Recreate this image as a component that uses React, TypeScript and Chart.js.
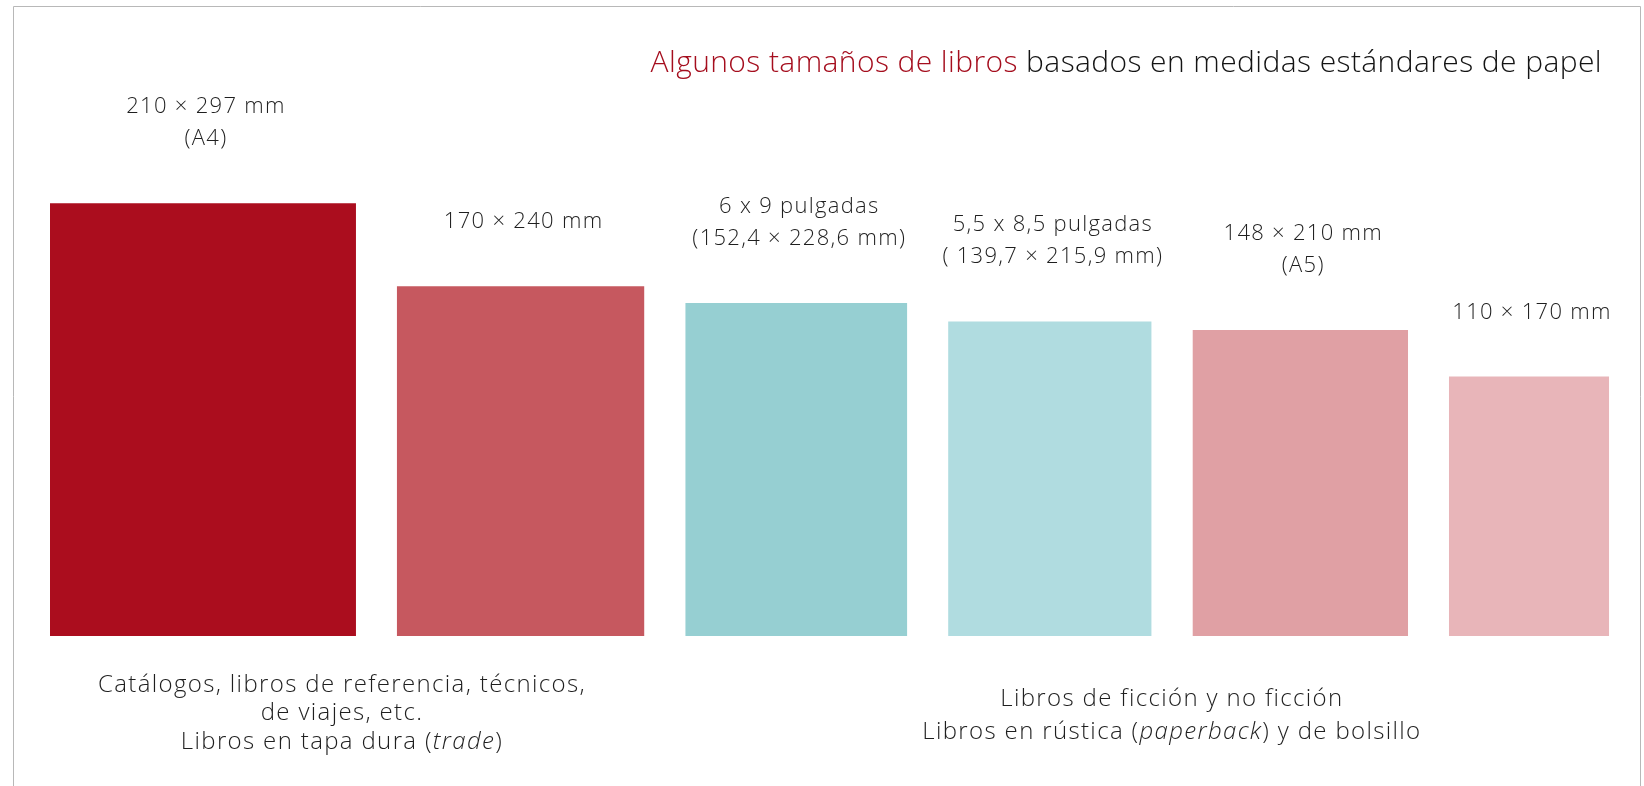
import React, { useEffect, useRef } from "react";
import { Chart, registerables } from "chart.js";

Chart.register(...registerables);

// Book sizes in millimetres (width × height, as drawn)
const bookNames = ["A4", "170x240", "6x9in", "5.5x8.5in", "A5", "110x170"];
const bookWidths = [210, 170, 152.4, 139.7, 148, 110];
const bookHeights = [297, 240, 228.6, 215.9, 210, 178];
const bookStarts = [0, 238, 436, 616.4, 784.1, 960.1];
const bookColors = ["#ab0d1e", "#c6585f", "#96cfd2", "#b0dce0", "#e0a0a4", "#e8b5b9"];
const bookLabels = [
  ["210 × 297 mm", "(A4)"],
  ["170 × 240 mm"],
  ["6 x 9 pulgadas", "(152,4 × 228,6 mm)"],
  ["5,5 x 8,5 pulgadas", "( 139,7 × 215,9 mm)"],
  ["148 × 210 mm", "(A5)"],
  ["110 × 170 mm"],
];

const titleRed = "Algunos tamaños de libros";
const titleBlack = " basados en medidas estándares de papel";

type Run = { text: string; italic?: boolean };
const captionLeftX = 200.4;
const captionLeft: Run[][] = [
  [{ text: "Catálogos, libros de referencia, técnicos," }],
  [{ text: "de viajes, etc." }],
  [{ text: "Libros en tapa dura (" }, { text: "trade", italic: true }, { text: ")" }],
];
const captionRightX = 770;
const captionRight: Run[][] = [
  [{ text: "Libros de ficción y no ficción" }],
  [
    { text: "Libros en rústica (" },
    { text: "paperback", italic: true },
    { text: ") y de bolsillo" },
  ],
];

const FONT = "'Open Sans', Lato, sans-serif";
const TEXT = "#1f1f1f";

function drawRuns(
  ctx: CanvasRenderingContext2D,
  runs: Run[],
  cx: number,
  y: number,
  size: number,
  spacing: number,
  align: "center" | "right",
  colors?: string[]
) {
  (ctx as any).letterSpacing = `${spacing}px`;
  const widths = runs.map((r) => {
    ctx.font = `${r.italic ? "italic " : ""}300 ${size}px ${FONT}`;
    return ctx.measureText(r.text).width;
  });
  const total = widths.reduce((a, b) => a + b, 0);
  let x = align === "center" ? cx - total / 2 : cx - total;
  runs.forEach((r, i) => {
    ctx.font = `${r.italic ? "italic " : ""}300 ${size}px ${FONT}`;
    ctx.fillStyle = colors ? colors[i] : TEXT;
    ctx.textAlign = "left";
    ctx.textBaseline = "alphabetic";
    ctx.fillText(r.text, x, y);
    x += widths[i];
  });
  (ctx as any).letterSpacing = "0px";
}

const overlayPlugin = {
  id: "overlay",
  afterDraw(chart: any) {
    const ctx: CanvasRenderingContext2D = chart.ctx;
    const xs = chart.scales.x;
    const ys = chart.scales.y;
    ctx.save();
    // frame
    ctx.strokeStyle = "#b8b8b8";
    ctx.lineWidth = 1;
    ctx.beginPath();
    ctx.moveTo(13.5, 800);
    ctx.lineTo(13.5, 6.5);
    ctx.lineTo(1640.5, 6.5);
    ctx.lineTo(1640.5, 800);
    ctx.stroke();

    // title
    drawRuns(ctx, [{ text: titleRed }, { text: titleBlack }], 1602, 72, 30, 0.4, "right", ["#a50e1e", "#141414"]);

    // labels above each book
    bookLabels.forEach((lines, i) => {
      const cx = xs.getPixelForValue(bookStarts[i] + bookWidths[i] / 2) + 3;
      const top = ys.getPixelForValue(bookHeights[i]);
      const lastY = top - 58;
      lines.forEach((ln, j) => {
        const y = lastY - (lines.length - 1 - j) * 32;
        drawRuns(ctx, [{ text: ln }], cx, y, 22, 1.3, "center");
      });
    });

    // captions
    const base = ys.getPixelForValue(0);
    captionLeft.forEach((runs, j) => {
      drawRuns(ctx, runs, xs.getPixelForValue(captionLeftX), base + 56 + j * 28.5, 24, 1.35, "center");
    });
    captionRight.forEach((runs, j) => {
      drawRuns(ctx, runs, xs.getPixelForValue(captionRightX), base + 70 + j * 33, 24, 1.35, "center");
    });
    ctx.restore();
  },
};

export default function App() {
  const ref = useRef<HTMLCanvasElement | null>(null);
  useEffect(() => {
    if (!ref.current) return;
    const chart = new Chart(ref.current, {
      type: "line",
      data: {
        datasets: bookNames.map((name, i) => ({
          label: name,
          data: [
            { x: bookStarts[i], y: bookHeights[i] },
            { x: bookStarts[i] + bookWidths[i], y: bookHeights[i] },
          ],
          fill: "origin",
          backgroundColor: bookColors[i],
          borderColor: bookColors[i],
          borderWidth: 0,
          pointRadius: 0,
          tension: 0,
        })),
      },
      options: {
        responsive: false,
        animation: false,
        layout: { padding: 0 },
        plugins: { legend: { display: false }, tooltip: { enabled: false }, title: { display: false } },
        scales: {
          x: { type: "linear", display: false, min: -34.3, max: 1094 },
          y: { type: "linear", display: false, min: -103, max: 436.5 },
        },
      },
      plugins: [overlayPlugin],
    });
    return () => chart.destroy();
  }, []);
  return (
    <div style={{ position: "absolute", left: 0, top: 0, width: 1644, height: 786, background: "#fff" }}>
      <canvas ref={ref} width={1644} height={786} style={{ display: "block" }} />
    </div>
  );
}
